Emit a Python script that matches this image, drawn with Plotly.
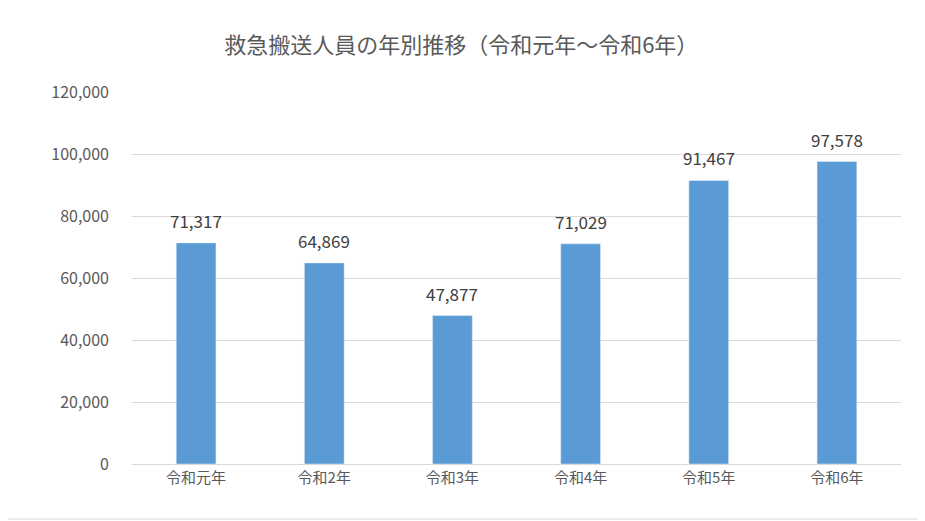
import plotly.graph_objects as go

categories = ["令和元年", "令和2年", "令和3年", "令和4年", "令和5年", "令和6年"]
values = [71317, 64869, 47877, 71029, 91467, 97578]
title = "救急搬送人員の年別推移（令和元年～令和6年）"

fig = go.Figure(go.Bar(x=categories, y=values, marker_color="#5b9bd5"))
for c, v in zip(categories, values):
    fig.add_annotation(x=c, y=v, text=f"{v:,}", showarrow=False, yanchor="bottom",
                       yshift=8, font=dict(size=17, color="#404040"))
fig.update_layout(
    width=925, height=521, paper_bgcolor="white", plot_bgcolor="white",
    font=dict(family="Noto Sans CJK JP", color="#595959"),
    margin=dict(l=124, r=32, t=84, b=65),
    bargap=0.69, showlegend=False,
    title=dict(text=title, x=0.49, xanchor="center", y=0.929, yanchor="middle",
               font=dict(size=22, color="#595959")),
    yaxis=dict(range=[0, 120000], dtick=20000, tickformat=",", showgrid=True,
               gridcolor="#d9d9d9", zeroline=False, tickfont=dict(size=16),
               ticklabelstandoff=22, showline=False),
    xaxis=dict(showline=True, linecolor="#d9d9d9", tickfont=dict(size=15)),
    shapes=[dict(type="rect", xref="paper", yref="paper", x0=-0.1678, x1=1.031,
                 y0=-0.148, y1=1.2446, line=dict(color="#d9d9d9", width=1))],
)
fig.write_html("out.html")
